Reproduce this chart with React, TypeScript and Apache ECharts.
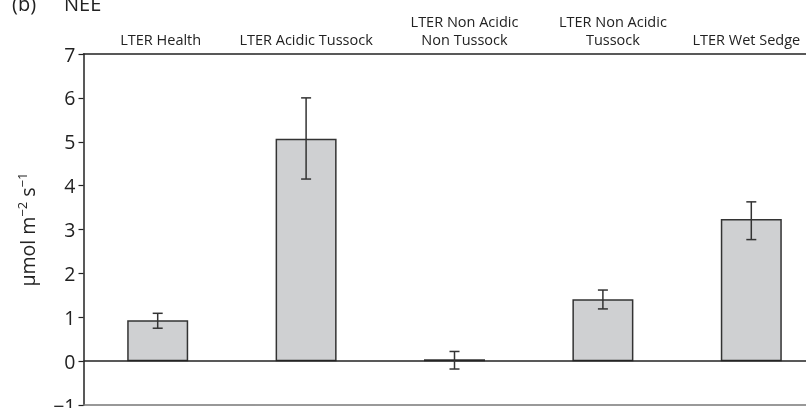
import React, { useEffect, useRef } from "react";
import * as echarts from "echarts";

const categories = [
  "LTER Health",
  "LTER Acidic Tussock",
  "LTER Non Acidic\nNon Tussock",
  "LTER Non Acidic\nTussock",
  "LTER Wet Sedge",
];
const neeMeans = [0.93, 5.07, 0.04, 1.41, 3.24];
const errLow = [0.75, 4.15, -0.18, 1.19, 2.77];
const errHigh = [1.09, 6.0, 0.22, 1.62, 3.63];
const yTicks = [-1, 0, 1, 2, 3, 4, 5, 6, 7];

// horizontal nudge (px) of each category caption from its bar centre
const labelShift = [3, 0, 10, 10, -5];

const FONT = "'Open Sans', 'Noto Sans', sans-serif";
const INK = "#222";
const LABEL_SIZE = 14.5;

export default function App() {
  const ref = useRef<HTMLDivElement>(null);

  useEffect(() => {
    if (!ref.current) return;
    const chart = echarts.init(ref.current, null, { renderer: "svg" });

    const errorData = categories.map((_, i) => [i, errLow[i], errHigh[i]]);

    const rich: Record<string, any> = {};
    labelShift.forEach((d, i) => {
      rich["c" + i] = {
        fontFamily: FONT,
        fontSize: LABEL_SIZE,
        lineHeight: 18,
        color: INK,
        padding: d >= 0 ? [0, 0, 0, 2 * d] : [0, -2 * d, 0, 0],
      };
    });

    chart.setOption({
      animation: false,
      textStyle: { fontFamily: FONT },
      title: [
        { text: "(b)", left: 7, top: -12, textStyle: { fontFamily: FONT, fontSize: 20, fontWeight: "normal", color: INK } },
        { text: "NEE", left: 59, top: -12, textStyle: { fontFamily: FONT, fontSize: 20, fontWeight: "normal", color: INK } },
      ],
      grid: {
        left: 83.5,
        top: 54,
        height: 351,
        width: 742,
        containLabel: false,
        outerBoundsMode: "none",
      },
      xAxis: [
        {
          type: "category",
          data: categories,
          position: "top",
          axisLine: { show: true, onZero: false, lineStyle: { color: INK, width: 1.5 } },
          axisTick: { show: false },
          axisLabel: {
            interval: 0,
            margin: 6,
            fontFamily: FONT,
            fontSize: LABEL_SIZE,
            lineHeight: 18,
            color: INK,
            formatter: (value: string, index: number) =>
              value
                .split("\n")
                .map((line) => `{c${index}|${line}}`)
                .join("\n"),
            rich,
          },
        },
        {
          type: "category",
          data: categories,
          position: "bottom",
          axisLine: { show: true, onZero: false, lineStyle: { color: "#777", width: 1.5 } },
          axisTick: { show: false },
          axisLabel: { show: false },
        },
      ],
      yAxis: {
        type: "value",
        min: yTicks[0],
        max: yTicks[yTicks.length - 1],
        interval: 1,
        splitLine: { show: false },
        axisLine: { show: true, onZero: false, lineStyle: { color: INK, width: 1.5 } },
        axisTick: { show: true, length: 5, lineStyle: { color: INK, width: 1.2 } },
        axisLabel: {
          fontFamily: FONT,
          fontSize: 19.5,
          color: INK,
          margin: 8,
          formatter: (v: number) => (v < 0 ? "\u2212" + Math.abs(v) : String(v)),
        },
        name: "{b|µmol m}{s|−2}{b| s}{s|−1}",
        nameLocation: "middle",
        nameGap: 46,
        nameRotate: 90,
        nameTextStyle: {
          rich: {
            b: { fontFamily: FONT, fontSize: 19.5, color: INK, lineHeight: 22, verticalAlign: "bottom" },
            s: { fontFamily: FONT, fontSize: 13, color: INK, lineHeight: 22, verticalAlign: "top" },
          },
        },
      },
      series: [
        {
          type: "bar",
          data: neeMeans,
          barWidth: 61,
          itemStyle: { color: "#cfd0d2", borderColor: "#333", borderWidth: 1.5 },
          markLine: {
            silent: true,
            symbol: "none",
            label: { show: false },
            lineStyle: { color: INK, width: 1.5, type: "solid" },
            data: [{ yAxis: 0 }],
          },
        },
        {
          type: "custom",
          data: errorData,
          encode: { x: 0, y: [1, 2] },
          z: 5,
          renderItem: (params: any, api: any) => {
            const lo = api.coord([api.value(0), api.value(1)]);
            const hi = api.coord([api.value(0), api.value(2)]);
            const cap = 5;
            const style = { stroke: "#333", lineWidth: 1.5 };
            return {
              type: "group",
              children: [
                { type: "line", shape: { x1: lo[0], y1: lo[1], x2: hi[0], y2: hi[1] }, style },
                { type: "line", shape: { x1: hi[0] - cap, y1: hi[1], x2: hi[0] + cap, y2: hi[1] }, style },
                { type: "line", shape: { x1: lo[0] - cap, y1: lo[1], x2: lo[0] + cap, y2: lo[1] }, style },
              ],
            };
          },
        },
      ],
    });

    return () => chart.dispose();
  }, []);

  return (
    <div
      ref={ref}
      style={{ position: "fixed", left: 0, top: 0, width: 806, height: 408, overflow: "hidden" }}
    />
  );
}
